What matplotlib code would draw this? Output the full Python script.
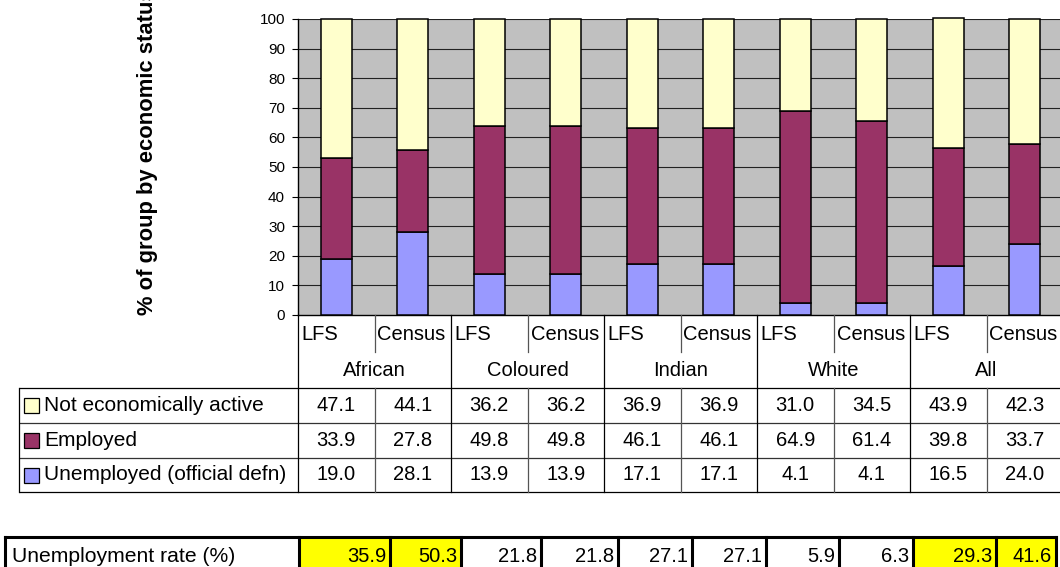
import matplotlib
matplotlib.use("Agg")
import matplotlib.pyplot as plt
from matplotlib.patches import Rectangle

plt.rcParams['font.family'] = ['Liberation Sans', 'DejaVu Sans']

# ---- data ----
groups = ['African', 'Coloured', 'Indian', 'White', 'All']
sources = ['LFS', 'Census']
series_names = ['Not economically active', 'Employed', 'Unemployed (official defn)']
not_active = [47.1, 44.1, 36.2, 36.2, 36.9, 36.9, 31.0, 34.5, 43.9, 42.3]
employed = [33.9, 27.8, 49.8, 49.8, 46.1, 46.1, 64.9, 61.4, 39.8, 33.7]
unemployed = [19.0, 28.1, 13.9, 13.9, 17.1, 17.1, 4.1, 4.1, 16.5, 24.0]
unemp_rate_label = 'Unemployment rate (%)'
unemp_rate = [35.9, 50.3, 21.8, 21.8, 27.1, 27.1, 5.9, 6.3, 29.3, 41.6]
highlight = [True, True, False, False, False, False, False, False, True, True]
yticks = [0, 10, 20, 30, 40, 50, 60, 70, 80, 90, 100]
ylabel = '% of group by economic status'

colors = {'Not economically active': '#FFFFCC',
          'Employed': '#993366',
          'Unemployed (official defn)': '#9999FF'}

W, H = 1060, 567
fig = plt.figure(figsize=(W / 100, H / 100), dpi=100)

# layout in pixels
ax_left, ax_right, ax_top, ax_bot = 298, 1063, 19, 315
ncol = len(not_active)
colw = (ax_right - ax_left) / ncol

ax = fig.add_axes([ax_left / W, 1 - ax_bot / H, (ax_right - ax_left) / W, (ax_bot - ax_top) / H])
ax.set_facecolor('#C0C0C0')
x = list(range(ncol))
bw = 0.4
bottoms = [0.0] * ncol
for name, vals in zip(['Unemployed (official defn)', 'Employed', 'Not economically active'],
                      [unemployed, employed, not_active]):
    bars = ax.bar(x, vals, bw, bottom=bottoms, color=colors[name], edgecolor='black',
                  linewidth=1.1, zorder=3)
    for b in bars:
        b.set_clip_on(False)
    bottoms = [b + v for b, v in zip(bottoms, vals)]

ax.set_xlim(-0.5, ncol - 0.5)
ax.set_ylim(0, 100)
ax.set_yticks(yticks)
ax.set_yticklabels([str(t) for t in yticks], fontsize=11)
ax.tick_params(axis='y', length=4.3, width=0.8, pad=5, colors='black')
ax.set_xticks([])
for yv in yticks[1:]:
    ax.axhline(yv, color='#222222', linewidth=0.8, zorder=1)
ax.spines['right'].set_visible(False)
ax.spines['top'].set_visible(False)
ax.spines['left'].set_color('black')
ax.spines['bottom'].set_color('black')
ax.spines['left'].set_linewidth(1.0)
ax.spines['bottom'].set_linewidth(1.0)

# overlay for the data table
ov = fig.add_axes([0, 0, 1, 1])
ov.set_xlim(0, W)
ov.set_ylim(H, 0)
ov.axis('off')
ov.patch.set_visible(False)

fs = 14.5
col_edges = [ax_left + i * colw for i in range(ncol + 1)]
row_y = [388, 423, 458, 492]
leg_left = 19
lc = '#555555'

# header rows
for i in range(ncol):
    ov.text(col_edges[i] + 3, 334, sources[i % 2], fontsize=fs, ha='left', va='center')
for g, name in enumerate(groups):
    cx = (col_edges[2 * g] + col_edges[2 * g + 2]) / 2
    ov.text(cx, 370, name, fontsize=fs, ha='center', va='center')

# lines of table
for yv in row_y:
    ov.plot([leg_left, ax_right], [yv, yv], color='black' if yv in (388, 492) else '#333333',
            lw=0.9, solid_capstyle='butt')
ov.plot([leg_left, leg_left], [row_y[0], row_y[-1]], color='black', lw=0.9)
ov.plot([ax_left, ax_left], [ax_bot, row_y[-1]], color='black', lw=0.9)
for i in range(1, ncol):
    xe = col_edges[i]
    if i % 2 == 0:
        ov.plot([xe, xe], [ax_bot, row_y[-1]], color='black', lw=0.9)
    else:
        ov.plot([xe, xe], [ax_bot, 352], color=lc, lw=0.9)
        ov.plot([xe, xe], [row_y[0], row_y[-1]], color=lc, lw=0.9)

# data rows
for r, (name, vals) in enumerate(zip(series_names, [not_active, employed, unemployed])):
    cy = (row_y[r] + row_y[r + 1]) / 2
    ov.add_patch(Rectangle((24, cy - 7.5), 15, 15, facecolor=colors[name], edgecolor='black', lw=0.9))
    ov.text(44, cy, name, fontsize=15, ha='left', va='center')
    for i, v in enumerate(vals):
        ov.text((col_edges[i] + col_edges[i + 1]) / 2, cy, f'{v:.1f}', fontsize=fs,
                ha='center', va='center')

# unemployment rate row
rate_edges = [5, 299, 390, 461, 541, 618, 692, 766, 839, 913, 996, 1056]
rt, rb = 537, 575
for i, v in enumerate(unemp_rate):
    x0, x1 = rate_edges[i + 1], rate_edges[i + 2]
    if highlight[i]:
        ov.add_patch(Rectangle((x0, rt), x1 - x0, rb - rt, facecolor='#FFFF00', edgecolor='none'))
    ov.text(x1 - 4, 556, f'{v:.1f}', fontsize=fs, ha='right', va='center')
ov.text(12, 556, unemp_rate_label, fontsize=15.2, ha='left', va='center')
ov.plot([rate_edges[0], rate_edges[-1]], [rt, rt], color='black', lw=2.2, solid_capstyle='projecting')
for xe in rate_edges:
    ov.plot([xe, xe], [rt, rb], color='black', lw=2.2)

# y label (overflows top like the original)
ov.text(147, ax_bot, ylabel, rotation=90, fontsize=15.8, fontweight='bold',
        ha='center', va='bottom')

fig.savefig('out.png', dpi=100)
